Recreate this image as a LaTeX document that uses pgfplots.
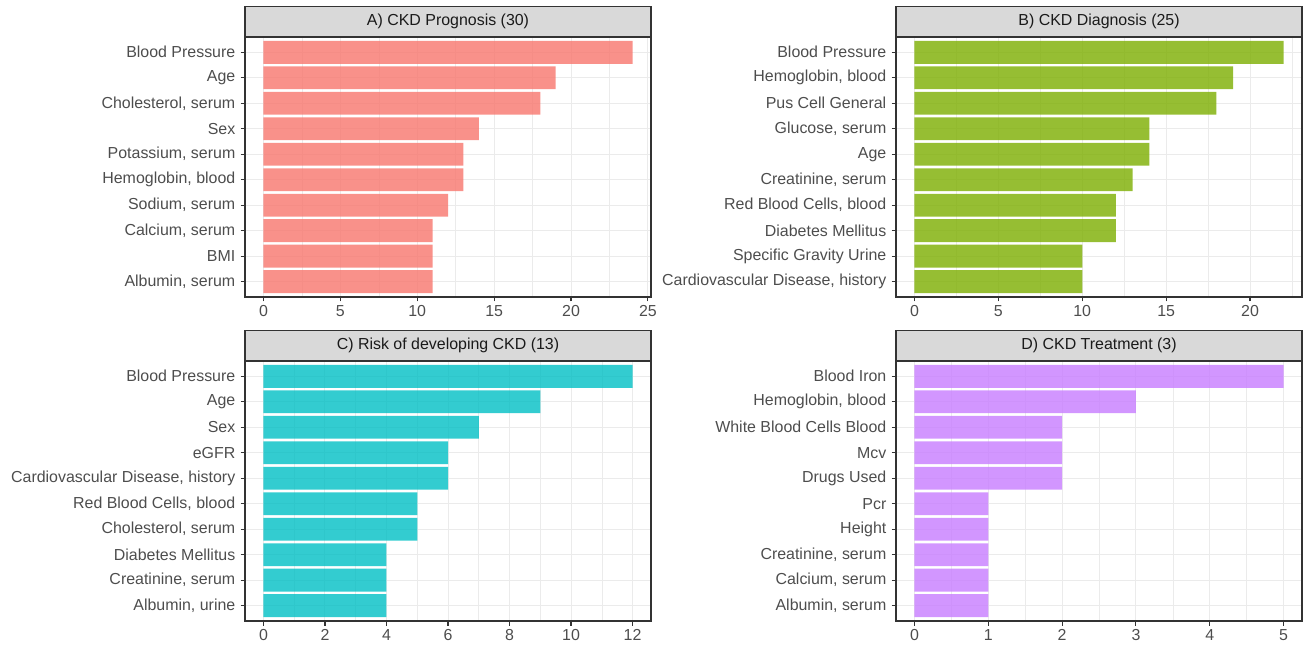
\documentclass[border=0pt]{standalone}
\usepackage{fontspec}
\setmainfont{Liberation Sans}
\usepackage{pgfplots}
\pgfplotsset{compat=1.18}
\definecolor{cA}{HTML}{F8766D}
\definecolor{cB}{HTML}{7CAE00}
\definecolor{cC}{HTML}{00BFC4}
\definecolor{cD}{HTML}{C77CFF}
\definecolor{grey10}{HTML}{1A1A1A}
\definecolor{grey20}{HTML}{333333}
\definecolor{grey30}{HTML}{4D4D4D}
\definecolor{grey85}{HTML}{D9D9D9}
\definecolor{grey92}{HTML}{EBEBEB}
\pgfplotsset{
  facet/.style={
    scale only axis, width=406bp, height=260bp,
    xbar, bar width=0.9,
    enlargelimits=false,
    ymin=0.4, ymax=10.6, ytick={1,...,10},
    tick align=outside, xtick pos=left, ytick pos=left,
    major tick length=4.5bp, minor tick length=0pt,
    xmajorgrids, xminorgrids, ymajorgrids,
    major grid style={grey92, line width=1bp},
    minor grid style={grey92, line width=0.55bp},
    axis line style={grey20, line width=1.1bp},
    tick style={grey20, line width=1.1bp},
    ticklabel style={font=\fontsize{16}{19}\selectfont, text=grey30},
    yticklabel style={inner sep=0pt, xshift=-5bp},
    xticklabel style={inner sep=0pt, yshift=-4bp},
    /pgf/number format/assume math mode=true,
    every axis title shift=0pt,
    title style={at={(0.5,1)}, anchor=south, fill=grey85, draw=grey20,
      line width=1.1bp, minimum width=406bp, minimum height=29.5bp,
      inner sep=0pt, text=grey10, font=\fontsize{16}{19}\selectfont},
  },
  bars/.style={fill=#1, fill opacity=0.8, draw=none},
}
\begin{document}
\begin{tikzpicture}[x=1bp,y=1bp]
\path[use as bounding box] (0,0) rectangle (1306,649);
% Panel A
\begin{axis}[facet, at={(245bp,352bp)}, anchor=south west,
  title={A) CKD Prognosis (30)},
  xmin=-1.2, xmax=25.2, xtick={0,5,10,15,20,25}, minor xtick={2.5,7.5,12.5,17.5,22.5},
  yticklabels={{Albumin, serum},{BMI},{Calcium, serum},{Sodium, serum},{Hemoglobin, blood},{Potassium, serum},{Sex},{Cholesterol, serum},{Age},{Blood Pressure}}]
\addplot[bars=cA] coordinates {(11,1) (11,2) (11,3) (12,4) (13,5) (13,6) (14,7) (18,8) (19,9) (24,10)};
\end{axis}
% Panel B
\begin{axis}[facet, at={(896bp,352bp)}, anchor=south west,
  title={B) CKD Diagnosis (25)},
  xmin=-1.1, xmax=23.1, xtick={0,5,10,15,20}, minor xtick={2.5,7.5,12.5,17.5,22.5},
  yticklabels={{Cardiovascular Disease, history},{Specific Gravity Urine},{Diabetes Mellitus},{Red Blood Cells, blood},{Creatinine, serum},{Age},{Glucose, serum},{Pus Cell General},{Hemoglobin, blood},{Blood Pressure}}]
\addplot[bars=cB] coordinates {(10,1) (10,2) (12,3) (12,4) (13,5) (14,6) (14,7) (18,8) (19,9) (22,10)};
\end{axis}
% Panel C
\begin{axis}[facet, at={(245bp,28bp)}, anchor=south west,
  title={C) Risk of developing CKD (13)},
  xmin=-0.6, xmax=12.6, xtick={0,2,4,6,8,10,12}, minor xtick={1,3,5,7,9,11},
  yticklabels={{Albumin, urine},{Creatinine, serum},{Diabetes Mellitus},{Cholesterol, serum},{Red Blood Cells, blood},{Cardiovascular Disease, history},{eGFR},{Sex},{Age},{Blood Pressure}}]
\addplot[bars=cC] coordinates {(4,1) (4,2) (4,3) (5,4) (5,5) (6,6) (6,7) (7,8) (9,9) (12,10)};
\end{axis}
% Panel D
\begin{axis}[facet, at={(896bp,28bp)}, anchor=south west,
  title={D) CKD Treatment (3)},
  xmin=-0.25, xmax=5.25, xtick={0,1,2,3,4,5}, minor xtick={0.5,1.5,2.5,3.5,4.5},
  yticklabels={{Albumin, serum},{Calcium, serum},{Creatinine, serum},{Height},{Pcr},{Drugs Used},{Mcv},{White Blood Cells Blood},{Hemoglobin, blood},{Blood Iron}}]
\addplot[bars=cD] coordinates {(1,1) (1,2) (1,3) (1,4) (1,5) (2,6) (2,7) (2,8) (3,9) (5,10)};
\end{axis}
\end{tikzpicture}
\end{document}
